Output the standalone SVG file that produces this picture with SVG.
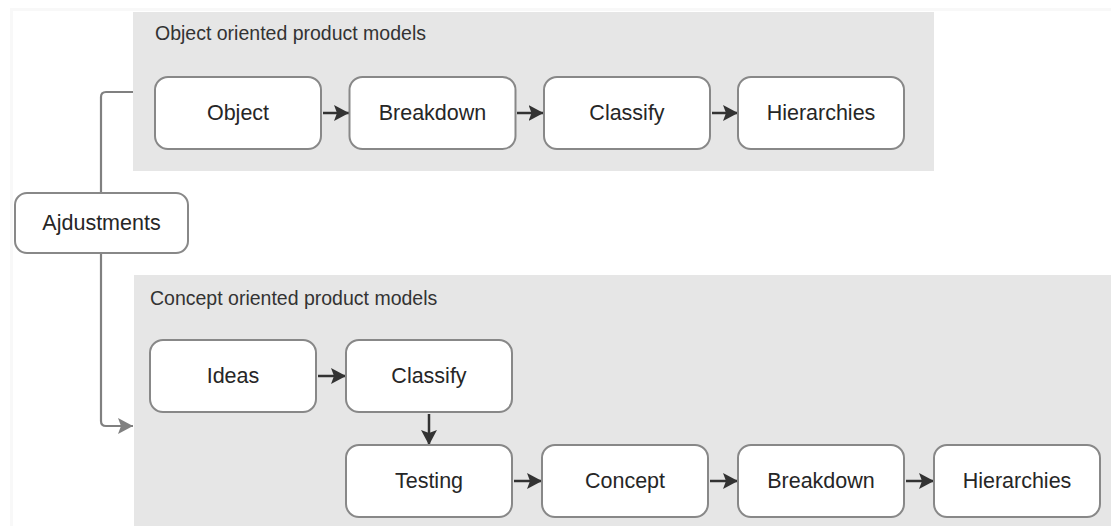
<svg xmlns="http://www.w3.org/2000/svg" width="1111" height="526" viewBox="0 0 1111 526">
<defs>
<style>
.panel{fill:#e6e6e6;}
.node rect{fill:#ffffff;stroke:#888888;stroke-width:2;}
.lbl{font-family:"Liberation Sans",Arial,sans-serif;font-size:21.5px;fill:#262626;text-anchor:middle;dominant-baseline:central;}
.title{font-family:"Liberation Sans",Arial,sans-serif;font-size:19.5px;fill:#333333;}
.dark{fill:none;stroke:#333333;stroke-width:2.5;marker-end:url(#ah);}
.grey{fill:none;stroke:#808080;stroke-width:2.2;}
</style>
<marker id="ah" markerWidth="16" markerHeight="18" refX="15" refY="9" orient="auto" markerUnits="userSpaceOnUse">
<path d="M0,1 L15,9 L0,17 L3,9 Z" fill="#333333"/>
</marker>
<marker id="ahg" markerWidth="16" markerHeight="18" refX="15" refY="9" orient="auto" markerUnits="userSpaceOnUse">
<path d="M0,1 L15,9 L0,17 L3,9 Z" fill="#808080"/>
</marker>
</defs>
<rect x="0" y="0" width="1111" height="526" fill="#ffffff"/>
<rect x="11.5" y="9.5" width="1120" height="540" fill="none" stroke="#f8f8f8" stroke-width="3"/>

<g id="panel-object">
<rect class="panel" x="133" y="12" width="801" height="159"/>
<text class="title" x="155" y="39.5">Object oriented product models</text>
</g>
<g id="panel-concept">
<rect class="panel" x="134" y="275" width="977" height="251"/>
<text class="title" x="150" y="305">Concept oriented product models</text>
</g>

<g id="connectors">
<path class="grey" d="M101,193 V97 Q101,92 106,92 H133"/>
<path class="grey" d="M101,253 V421 Q101,426 106,426 H133" marker-end="url(#ahg)"/>
<path class="dark" d="M323,113 H349"/>
<path class="dark" d="M517,113 H543.5"/>
<path class="dark" d="M712,113 H738"/>
<path class="dark" d="M318,376 H346"/>
<path class="dark" d="M429,414 V445"/>
<path class="dark" d="M514,481 H542"/>
<path class="dark" d="M710,481 H738"/>
<path class="dark" d="M906,481 H934"/>
</g>

<g id="node-adjustments" class="node">
<rect x="15" y="193" width="173" height="60" rx="12"/>
<text class="lbl" x="101.5" y="223">Ajdustments</text>
</g>

<g id="node-object" class="node">
<rect x="155" y="77" width="166" height="72" rx="13"/>
<text class="lbl" x="238" y="113">Object</text>
</g>
<g id="node-breakdown1" class="node">
<rect x="349.5" y="77" width="166" height="72" rx="13"/>
<text class="lbl" x="432.5" y="113">Breakdown</text>
</g>
<g id="node-classify1" class="node">
<rect x="544" y="77" width="166" height="72" rx="13"/>
<text class="lbl" x="627" y="113">Classify</text>
</g>
<g id="node-hierarchies1" class="node">
<rect x="738" y="77" width="166" height="72" rx="13"/>
<text class="lbl" x="821" y="113">Hierarchies</text>
</g>

<g id="node-ideas" class="node">
<rect x="150" y="340" width="166" height="72" rx="13"/>
<text class="lbl" x="233" y="376">Ideas</text>
</g>
<g id="node-classify2" class="node">
<rect x="346" y="340" width="166" height="72" rx="13"/>
<text class="lbl" x="429" y="376">Classify</text>
</g>
<g id="node-testing" class="node">
<rect x="346" y="445" width="166" height="72" rx="13"/>
<text class="lbl" x="429" y="481">Testing</text>
</g>
<g id="node-concept" class="node">
<rect x="542" y="445" width="166" height="72" rx="13"/>
<text class="lbl" x="625" y="481">Concept</text>
</g>
<g id="node-breakdown2" class="node">
<rect x="738" y="445" width="166" height="72" rx="13"/>
<text class="lbl" x="821" y="481">Breakdown</text>
</g>
<g id="node-hierarchies2" class="node">
<rect x="934" y="445" width="166" height="72" rx="13"/>
<text class="lbl" x="1017" y="481">Hierarchies</text>
</g>
</svg>
